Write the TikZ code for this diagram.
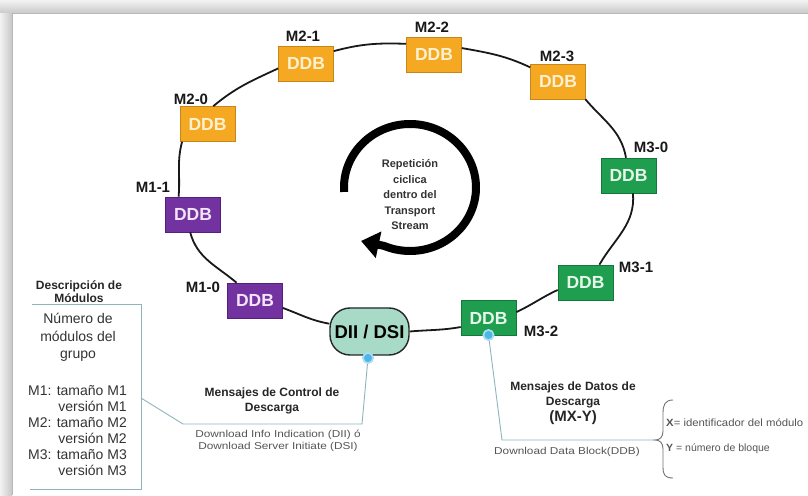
\documentclass[tikz,border=0pt]{standalone}
\usepackage{fontspec}
\setmainfont{Liberation Sans}
\newfontfamily\notefont[FakeStretch=1.18]{Liberation Sans}
\newfontfamily\keyfont[FakeStretch=1.08]{Liberation Sans}
\usetikzlibrary{arrows.meta,calc}

\definecolor{ddbOrange}{HTML}{F5A822}
\definecolor{ddbOrangeLine}{HTML}{C8861A}
\definecolor{ddbOrangeText}{HTML}{FFF1CF}
\definecolor{ddbPurple}{HTML}{7232A0}
\definecolor{ddbPurpleLine}{HTML}{55207D}
\definecolor{ddbPurpleText}{HTML}{F3E4F7}
\definecolor{ddbGreen}{HTML}{1E9E4E}
\definecolor{ddbGreenLine}{HTML}{16773A}
\definecolor{ddbGreenText}{HTML}{E6F7EA}
\definecolor{diiFill}{HTML}{A8DBC7}
\definecolor{leadLine}{HTML}{8FB4BE}
\definecolor{dotFill}{HTML}{4FB4E6}
\definecolor{dotHalo}{HTML}{A8DDF4}
\definecolor{bodyText}{HTML}{333333}
\definecolor{noteText}{HTML}{555555}

\tikzset{
  ddb/.style={rectangle, minimum width=55pt, minimum height=35pt, inner sep=0pt,
    line width=0.6pt, font=\fontsize{17.5}{20}\selectfont\bfseries},
  ddbO/.style={ddb, fill=ddbOrange, draw=ddbOrangeLine, text=ddbOrangeText},
  ddbP/.style={ddb, fill=ddbPurple, draw=ddbPurpleLine, text=ddbPurpleText},
  ddbG/.style={ddb, fill=ddbGreen, draw=ddbGreenLine, text=ddbGreenText},
  diibox/.style={rectangle, rounded corners=20pt, minimum width=79pt, minimum height=47pt,
    inner sep=0pt, fill=diiFill, draw=black!85, line width=1.4pt,
    font=\fontsize{18.5}{20}\selectfont\bfseries},
  mlabel/.style={inner sep=0pt, text=black!90, font=\fontsize{15}{17}\selectfont\bfseries},
  ring/.style={line width=1.8pt, black!90},
  lead/.style={draw=leadLine, line width=0.9pt},
  dot/.style={circle, fill=dotFill, draw=dotHalo, line width=1.6pt, minimum size=10pt, inner sep=0pt},
  headtext/.style={align=center, inner sep=0pt, text=black!85,
    font=\fontsize{12}{15}\selectfont\bfseries},
  notetext/.style={align=center, inner sep=0pt, text=noteText,
    font=\notefont\fontsize{10}{11.7}\selectfont},
  bodytext/.style={inner sep=0pt, text=bodyText}
}

\begin{document}
\begin{tikzpicture}[x=1pt,y=1pt]
\useasboundingbox (0,0) rectangle (808,495);

% sheet with its soft shadow
\fill[black!10] (0,0) rectangle (808,495);
\shade[top color=black!5, bottom color=black!22] (0,481) rectangle (808,495);
\shade[left color=black!5, right color=black!22] (0,0) rectangle (12,481);
\fill[white] (12,0) rectangle (808,481);
\draw[black!28, line width=1pt] (12,0) -- (12,481) -- (808,481);

% cyclic repetition arrow
\coordinate (cyc) at (410,307.5);
\coordinate (cyctip) at (361,254);
\draw[line width=8pt, black, -{Triangle[width=26pt,length=18pt]}]
  ($(cyc)+(184:66 and 63.5)$) arc[start angle=184, end angle=-113, x radius=66, y radius=63.5]
  -- (cyctip);
\node[align=center, inner sep=0pt, text=black!80, font=\fontsize{11}{15.5}\selectfont\bfseries]
  (cyctext) at (410,300) {Repetición\\ciclica\\dentro del\\Transport\\Stream};

% data blocks of the carousel
\node[ddbO] (m20) at (207.5,371) {DDB};
\node[ddbO] (m21) at (306,431.5) {DDB};
\node[ddbO] (m22) at (434,440.5) {DDB};
\node[ddbO] (m23) at (558,413.5) {DDB};
\node[ddbP] (m11) at (193,280.5) {DDB};
\node[ddbP] (m10) at (255,194.5) {DDB};
\node[ddbG] (m30) at (628.5,319.5) {DDB};
\node[ddbG] (m31) at (585.5,212.5) {DDB};
\node[ddbG] (m32) at (488.5,177) {DDB};
\node[diibox] (dii) at (369.5,163.5) {DII / DSI};

% block names
\node[mlabel] (l20) at (191,396) {M2-0};
\node[mlabel] (l21) at (303,459) {M2-1};
\node[mlabel] (l22) at (432,468) {M2-2};
\node[mlabel] (l23) at (557,439) {M2-3};
\node[mlabel] (l11) at (153,308) {M1-1};
\node[mlabel] (l10) at (203,208) {M1-0};
\node[mlabel] (l30) at (651,348) {M3-0};
\node[mlabel] (l31) at (636,228) {M3-1};
\node[mlabel] (l32) at (541,164) {M3-2};

% the carousel ring
\draw[ring] (dii.0)   to[out=5,in=190]   (m32.198);
\draw[ring] (m32.12)  to[out=25,in=205]  (m31.195);
\draw[ring] (m31.52)  to[out=60,in=-85]  (m30.-76);
\draw[ring] (m30.98)  to[out=100,in=-50] (m23.-33);
\draw[ring] (m23.153) to[out=155,in=-10] (m22.13);
\draw[ring] (m22.159) to[out=178,in=15]  (m21.24);
\draw[ring] (m21.190) to[out=205,in=40]  (m20.72);
\draw[ring] (m20.215) to[out=255,in=85]  (m11.129);
\draw[ring] (m11.261) to[out=-75,in=140] (m10.136);
\draw[ring] (m10.-15) to[out=-20,in=170] (dii.169);

% module description panel
\coordinate (descNW) at (32,191);
\coordinate (descNE) at (141,191);
\coordinate (descSE) at (141,6);
\coordinate (descSW) at (30,6);
\draw[lead] (descNW) -- (descNE) -- (descSE) -- (descSW);
\node[headtext, font=\fontsize{12}{13.5}\selectfont\bfseries] (desctitle) at (79,203.5)
  {Descripción de\\Módulos};
\node[bodytext, align=center, font=\fontsize{14}{17.5}\selectfont] (descnum) at (78,157.5)
  {Número de\\módulos del\\grupo};
\node[bodytext, align=right, anchor=east, font=\fontsize{14}{16}\selectfont] (desclist) at (127,64)
  {M1: tamaño M1\\versión M1\\M2: tamaño M2\\versión M2\\M3: tamaño M3\\versión M3};

% control messages callout
\node[dot] (dotA) at (368,137) {};
\coordinate (descA) at (141,97);
\coordinate (bendA) at (183,71);
\coordinate (bendB) at (362,71);
\draw[lead] (descA) -- (bendA) -- (bendB) -- (dotA);
\node[dot] at (dotA) {};
\node[headtext, font=\fontsize{12}{15}\selectfont\bfseries] (ctrlhead) at (272,94.5)
  {Mensajes de Control de\\Descarga};
\node[notetext] (ctrlnote) at (278,54)
  {Download Info Indication (DII) ó\\Download Server Initiate (DSI)};

% data messages callout
\node[dot] (dotB) at (488.5,160) {};
\coordinate (bendC) at (502,55);
\coordinate (braceTip) at (655,55);
\draw[lead] (dotB) -- (bendC) -- (braceTip);
\node[dot] at (dotB) {};
\node[headtext] (datahead) at (573,100.5) {Mensajes de Datos de\\Descarga};
\node[headtext, font=\fontsize{15}{17}\selectfont\bfseries] (datamx) at (573,77) {(MX-Y)};
\node[notetext] (datanote) at (567,43) {Download Data Block(DDB)};

% brace with the meaning of X and Y
\draw[black!55, line width=0.9pt]
  (673,95) .. controls (665,95) and (663,90) .. (663,82) -- (663,64)
  .. controls (663,58) and (660,55) .. (braceTip)
  .. controls (660,55) and (663,52) .. (663,46) -- (663,28)
  .. controls (663,20) and (665,17) .. (673,17);
\node[anchor=west, inner sep=0pt, text=noteText, font=\keyfont\fontsize{10.5}{12}\selectfont] (xnote)
  at (666,72) {\textbf{X}= identificador del módulo};
\node[anchor=west, inner sep=0pt, text=noteText, font=\fontsize{10.5}{12}\selectfont] (ynote)
  at (666,46) {\textbf{Y} = número de bloque};
\end{tikzpicture}
\end{document}
